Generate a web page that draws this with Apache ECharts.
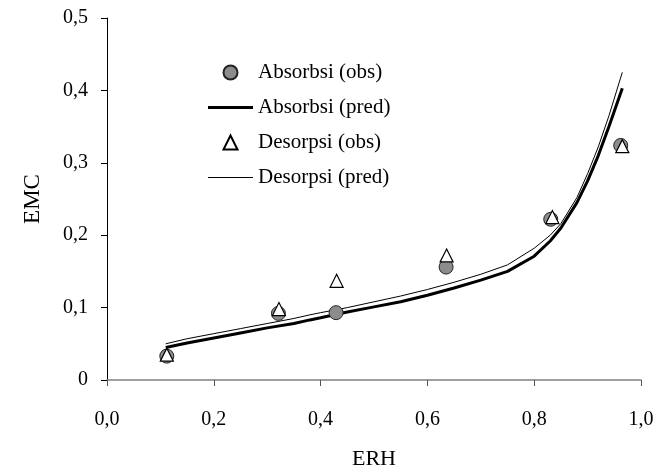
<!DOCTYPE html>
<html>
<head>
<meta charset="utf-8">
<script src="https://cdn.jsdelivr.net/npm/echarts@6/dist/echarts.min.js"></script>
<style>
  html, body { margin: 0; padding: 0; background: #fff; }
  #chart { width: 670px; height: 473px; }
</style>
</head>
<body>
<div id="chart"></div>
<script>
// observed points (ERH, EMC)
const absObsX = [0.112, 0.321, 0.429, 0.635, 0.831, 0.962];
const absObsY = [0.033, 0.092, 0.093, 0.156, 0.222, 0.324];
const desObsX = [0.112, 0.322, 0.430, 0.636, 0.834, 0.965];
const desObsY = [0.035, 0.098, 0.137, 0.172, 0.225, 0.323];

// predicted curves
const predX = [0.11, 0.15, 0.2, 0.25, 0.3, 0.35, 0.38, 0.4, 0.45, 0.5, 0.55, 0.6,
  0.65, 0.7, 0.75, 0.8, 0.83, 0.85, 0.88, 0.9, 0.92, 0.94, 0.965];
const absPredY = [0.045, 0.051, 0.058, 0.065, 0.072, 0.078, 0.083, 0.086, 0.094, 0.101, 0.108, 0.117,
  0.127, 0.138, 0.150, 0.171, 0.192, 0.210, 0.245, 0.275, 0.310, 0.350, 0.403];
const desPredY = [0.050, 0.057, 0.064, 0.071, 0.078, 0.085, 0.090, 0.093, 0.100, 0.108, 0.116, 0.125,
  0.135, 0.146, 0.159, 0.182, 0.200, 0.216, 0.252, 0.285, 0.322, 0.365, 0.425];

const names = ['Absorbsi (obs)', 'Absorbsi (pred)', 'Desorpsi (obs)', 'Desorpsi (pred)'];

function pairs(xs, ys) {
  return xs.map((x, i) => [x, ys[i]]);
}
function comma(v) {
  return v === 0 ? '0' : v.toFixed(1).replace('.', ',');
}

const font = 'Liberation Serif';
const chart = echarts.init(document.getElementById('chart'));

chart.setOption({
  animation: false,
  backgroundColor: '#fff',
  textStyle: { fontFamily: font },
  grid: { left: 107, right: 29, top: 18, bottom: 93, outerBoundsMode: 'none' },
  legend: {
    orient: 'vertical',
    left: 203,
    top: 57,
    itemWidth: 45,
    itemHeight: 14,
    itemGap: 14,
    symbolKeepAspect: true,
    textStyle: { fontFamily: font, fontSize: 21, color: '#000' },
    data: [
      { name: names[0], icon: 'circle' },
      { name: names[1], icon: 'path://M0,0H45V3H0Z' },
      { name: names[2], icon: 'path://M6,0L12,12L0,12Z' },
      { name: names[3], icon: 'path://M0,0H45V1H0Z' }
    ]
  },
  xAxis: {
    type: 'value',
    min: 0,
    max: 1,
    interval: 0.2,
    name: 'ERH',
    nameLocation: 'middle',
    nameGap: 68,
    nameTextStyle: { fontFamily: font, fontSize: 22, color: '#000' },
    splitLine: { show: false },
    axisLine: { show: true, lineStyle: { color: '#808080', width: 1.5 } },
    axisTick: { show: true, length: 6, lineStyle: { color: '#555' } },
    axisLabel: {
      fontFamily: font, fontSize: 20, color: '#000', margin: 30,
      formatter: v => v.toFixed(1).replace('.', ',')
    }
  },
  yAxis: {
    type: 'value',
    min: 0,
    max: 0.5,
    interval: 0.1,
    name: 'EMC',
    nameLocation: 'middle',
    nameGap: 63,
    nameRotate: 90,
    nameTextStyle: { fontFamily: font, fontSize: 23, color: '#000' },
    splitLine: { show: false },
    axisLine: { show: true, lineStyle: { color: '#000', width: 1 } },
    axisTick: { show: true, length: 6, lineStyle: { color: '#000' } },
    axisLabel: {
      fontFamily: font, fontSize: 20, color: '#000', margin: 19,
      formatter: comma
    }
  },
  series: [
    {
      name: names[0],
      type: 'scatter',
      symbol: 'circle',
      symbolSize: 14,
      itemStyle: { color: '#8c8c8c', borderColor: '#222', borderWidth: 1, opacity: 1 },
      data: pairs(absObsX, absObsY),
      z: 3
    },
    {
      name: names[1],
      type: 'line',
      symbol: 'none',
      lineStyle: { color: '#000', width: 3 },
      itemStyle: { color: '#000' },
      data: pairs(predX, absPredY),
      z: 2
    },
    {
      name: names[2],
      type: 'scatter',
      symbol: 'triangle',
      symbolSize: [13, 13],
      itemStyle: { color: '#fff', borderColor: '#000', borderWidth: 1.2, opacity: 1 },
      data: pairs(desObsX, desObsY),
      z: 4
    },
    {
      name: names[3],
      type: 'line',
      symbol: 'none',
      lineStyle: { color: '#000', width: 1 },
      itemStyle: { color: '#000' },
      data: pairs(predX, desPredY),
      z: 2
    }
  ]
});
</script>
</body>
</html>
